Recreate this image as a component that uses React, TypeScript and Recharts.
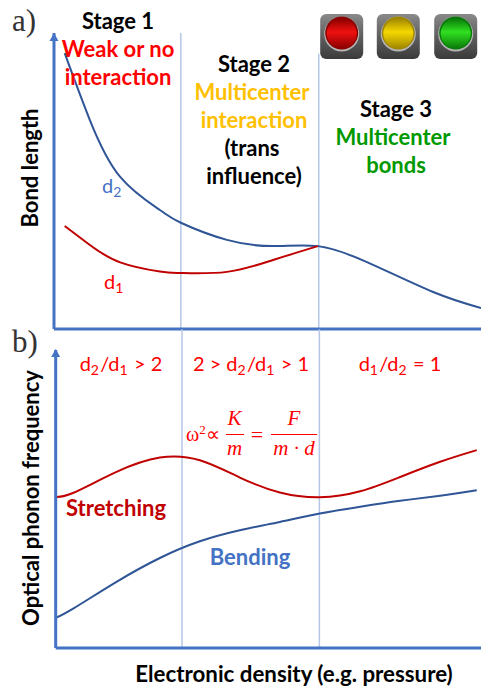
import { Line, LineChart, ReferenceLine, XAxis, YAxis } from 'recharts';

// Panel a: bond length vs electronic density (arbitrary units, 0-100)
const densityA = [2.5, 8.4, 15.5, 24.8, 29.7, 40.5, 51.3, 61.8, 73.3, 88.8, 100];
const d2Values = [93.2, 70.6, 51.4, 40.2, 35.9, 30.1, 28, 28, 22.6, 12.5, 7.1];
const d1Values = [34.8, 28.4, 22.5, 19.4, 18.9, 19.3, 23.3, 28, null, null, null];

// Panel b: optical phonon frequency vs electronic density
const densityB = [0, 4.2, 14.3, 24.5, 33.9, 43.3, 52.7, 62.1, 71.6, 81, 90.4, 99];
const stretchingValues = [50.7, 52.1, 59.1, 63.9, 63, 57.2, 52.2, 50.6, 52.6, 57.4, 62.5, 66.4];
const bendingValues = [10.1, 13.3, 22.2, 30.2, 35.8, 39.5, 42.3, 45.1, 47.4, 49.4, 51.1, 52.9];

// stage boundaries on the density axis
const STAGE_1_END = 29.7;
const STAGE_2_END = 62;

const bondData = densityA.map((x, i) => ({ x, d1: d1Values[i], d2: d2Values[i] }));
const phononData = densityB.map((x, i) => ({ x, stretching: stretchingValues[i], bending: bendingValues[i] }));

const AXIS = '#4472C4';
const GUIDE = '#B4C7E7';
const BLUE = '#2F5597';
const DARK_RED = '#C00000';
const RED = '#FF0000';
const FONT = 'Lato, sans-serif';
const SERIF = '"Liberation Serif", serif';

const axisLine = { stroke: AXIS, strokeWidth: 3 };

const Sub = ({ children }: { children: string }) => (
  <>
    <tspan dy={4} fontSize="70%">{children}</tspan>
    <tspan dy={-4}>{'\u200a'}</tspan>
  </>
);

const Lamp = ({ x, id, light, dark }: { x: number; id: string; light: string; dark: string }) => (
  <g>
    <defs>
      <linearGradient id={`case-${id}`} x1="0" y1="0" x2="0" y2="1">
        <stop offset="0" stopColor="#8a8a8a" />
        <stop offset="0.5" stopColor="#5f5f5f" />
        <stop offset="1" stopColor="#3a3a3a" />
      </linearGradient>
      <linearGradient id={`glass-${id}`} x1="0" y1="0" x2="0" y2="1">
        <stop offset="0" stopColor={dark} />
        <stop offset="0.45" stopColor={light} />
        <stop offset="1" stopColor={dark} />
      </linearGradient>
    </defs>
    <rect x={x - 21.5} y={14} width={43} height={45} rx={6} fill={`url(#case-${id})`} />
    <circle cx={x} cy={34} r={17.5} fill="#b5b5b5" />
    <circle cx={x} cy={33} r={16.5} fill={dark} />
    <circle cx={x} cy={33.5} r={15} fill={`url(#glass-${id})`} />
  </g>
);

const Title = ({ x, y, children, fill = '#000', size = 22 }: { x: number; y: number; children: any; fill?: string; size?: number }) => (
  <text x={x} y={y} textAnchor="middle" fontFamily={FONT} fontWeight={700} fontSize={size} fill={fill}>
    {children}
  </text>
);

const Overlay = () => (
  <svg width={481} height={687} style={{ position: 'absolute', left: 0, top: 0 }}>
    <polygon points="54,33 49.5,41 58.5,41" fill={AXIS} />
    <polygon points="55.7,349 51.2,357 60.2,357" fill={AXIS} />

    <text x={12} y={31} fontFamily={SERIF} fontSize={31} fill="#333">a)</text>
    <text x={12} y={352} fontFamily={SERIF} fontSize={31} fill="#333">b)</text>

    <Lamp x={341.7} id="red" light="#f01010" dark="#8a0000" />
    <Lamp x={398.3} id="yellow" light="#f5d800" dark="#a08600" />
    <Lamp x={455.7} id="green" light="#30e020" dark="#0a7a0a" />

    <Title x={118} y={29}>Stage 1</Title>
    <Title x={118} y={57} fill={RED}>Weak or no</Title>
    <Title x={118} y={85} fill={RED}>interaction</Title>

    <Title x={254} y={72}>Stage 2</Title>
    <Title x={252} y={100} fill="#FFC000">Multicenter</Title>
    <Title x={254} y={128} fill="#FFC000">interaction</Title>
    <Title x={252} y={156}>(trans</Title>
    <Title x={254} y={184}>influence)</Title>

    <Title x={396} y={117}>Stage 3</Title>
    <Title x={393} y={145} fill="#009900">Multicenter</Title>
    <Title x={396} y={173} fill="#009900">bonds</Title>

    <text x={102} y={193} fontFamily={FONT} fontSize={20} fill={AXIS}>d<Sub>2</Sub></text>
    <text x={104} y={289} fontFamily={FONT} fontSize={20} fill={RED}>d<Sub>1</Sub></text>

    <text x={121} y={371} textAnchor="middle" fontFamily={FONT} fontSize={20} fill={RED}>d<Sub>2</Sub>/d<Sub>1</Sub> {'> 2'}</text>
    <text x={251} y={371} textAnchor="middle" fontFamily={FONT} fontSize={20} fill={RED}>{'2 > '}d<Sub>2</Sub>/d<Sub>1</Sub> {'> 1'}</text>
    <text x={400} y={371} textAnchor="middle" fontFamily={FONT} fontSize={20} fill={RED}>d<Sub>1</Sub>/d<Sub>2</Sub> = 1</text>

    <g fontFamily={SERIF} fill={RED}>
      <text x={186} y={441} fontSize={20}>ω<tspan dy={-7} fontSize={13}>2</tspan><tspan dy={7}>∝</tspan></text>
      <text x={234.5} y={425} textAnchor="middle" fontSize={21} fontStyle="italic">K</text>
      <line x1={226} x2={244} y1={434.5} y2={434.5} stroke={RED} strokeWidth={1} />
      <text x={234.5} y={455} textAnchor="middle" fontSize={21} fontStyle="italic">m</text>
      <text x={257} y={442} textAnchor="middle" fontSize={22}>=</text>
      <text x={294} y={425} textAnchor="middle" fontSize={21} fontStyle="italic">F</text>
      <line x1={271} x2={317} y1={434.5} y2={434.5} stroke={RED} strokeWidth={1} />
      <text x={294} y={455} textAnchor="middle" fontSize={21} fontStyle="italic">m · d</text>
    </g>

    <Title x={116} y={516} fill={DARK_RED}>Stretching</Title>
    <Title x={250} y={565} fill={AXIS}>Bending</Title>

    <Title x={294} y={682} size={22.3}>Electronic density (e.g. pressure)</Title>
    <text transform="translate(37.5,168) rotate(-90)" textAnchor="middle" fontFamily={FONT} fontWeight={700} fontSize={22}>Bond length</text>
    <text transform="translate(39,498) rotate(-90)" textAnchor="middle" fontFamily={FONT} fontWeight={700} fontSize={22}>Optical phonon frequency</text>
  </svg>
);

export default function App() {
  return (
    <div style={{ position: 'absolute', left: 0, top: 0, width: 481, height: 687, background: '#fff', overflow: 'hidden' }}>
      <div style={{ position: 'absolute', left: 0, top: 0 }}>
        <LineChart width={481} height={335} data={bondData} margin={{ top: 33, right: 0, bottom: 5, left: 53 }}>
          <XAxis dataKey="x" type="number" domain={[0, 100]} tick={false} tickLine={false} axisLine={axisLine} height={1} />
          <YAxis type="number" domain={[0, 100]} tick={false} tickLine={false} axisLine={axisLine} width={1} />
          <ReferenceLine x={STAGE_1_END} stroke={GUIDE} strokeWidth={1.5} />
          <ReferenceLine segment={[{ x: STAGE_2_END, y: 0 }, { x: STAGE_2_END, y: 93 }]} stroke={GUIDE} strokeWidth={1.5} />
          <Line dataKey="d2" type="natural" stroke={BLUE} strokeWidth={2} dot={false} isAnimationActive={false} />
          <Line dataKey="d1" type="natural" stroke={DARK_RED} strokeWidth={2} dot={false} isAnimationActive={false} />
        </LineChart>
      </div>
      <div style={{ position: 'absolute', left: 0, top: 325 }}>
        <LineChart width={481} height={335} data={phononData} margin={{ top: 25, right: 0, bottom: 11, left: 54.7 }}>
          <XAxis dataKey="x" type="number" domain={[0, 100]} tick={false} tickLine={false} axisLine={axisLine} height={1} />
          <YAxis type="number" domain={[0, 100]} tick={false} tickLine={false} axisLine={axisLine} width={1} />
          <ReferenceLine segment={[{ x: STAGE_1_END, y: 0 }, { x: STAGE_1_END, y: 107 }]} ifOverflow="visible" stroke={GUIDE} strokeWidth={1.5} />
          <ReferenceLine segment={[{ x: STAGE_2_END, y: 0 }, { x: STAGE_2_END, y: 107 }]} ifOverflow="visible" stroke={GUIDE} strokeWidth={1.5} />
          <Line dataKey="bending" type="natural" stroke={BLUE} strokeWidth={2} dot={false} isAnimationActive={false} />
          <Line dataKey="stretching" type="natural" stroke={DARK_RED} strokeWidth={2} dot={false} isAnimationActive={false} />
        </LineChart>
      </div>
      <Overlay />
    </div>
  );
}
